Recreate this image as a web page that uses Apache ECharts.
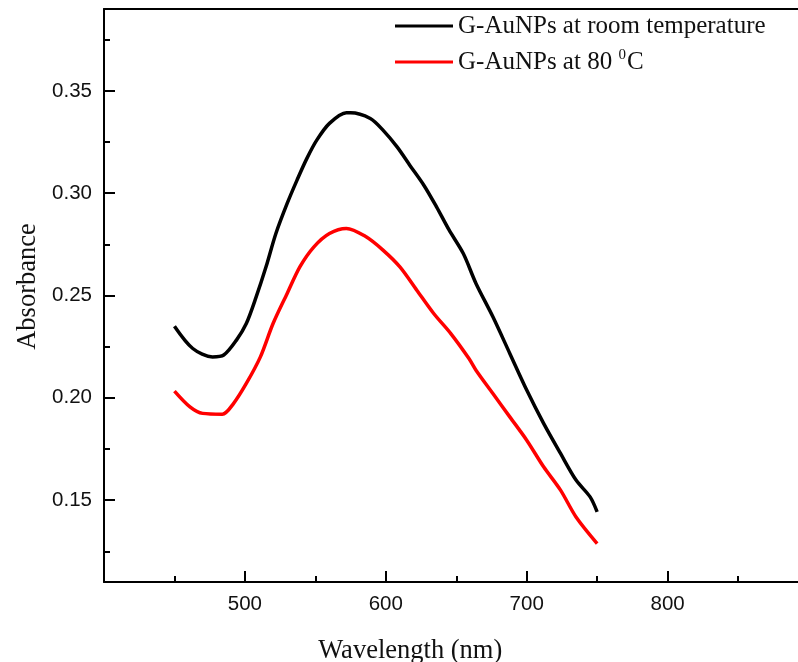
<!DOCTYPE html>
<html lang="en">

<head>
    <meta charset="UTF-8">
    <style>
    html,
    body {
        height: 100%;
        margin: 0;
        background: #fff;
    }
  </style>
</head>

<body>
<div id="chart" style="width:798px;height:662px;"></div>
<script src="https://cdn.jsdelivr.net/npm/echarts@6/dist/echarts.min.js"></script>
<script>
    // wavelength (nm) / absorbance
    var roomWave = [450, 463, 477, 485, 494, 501, 508, 515, 522, 530, 537, 544, 551, 560, 572, 575, 589, 598, 608, 617, 627, 636, 645, 655, 664, 676, 688, 700, 712, 724, 735, 745, 750];
    var roomAbs = [0.2350, 0.2241, 0.2200, 0.2209, 0.2282, 0.2363, 0.2493, 0.2640, 0.2803, 0.2950, 0.3064, 0.3170, 0.3259, 0.3341, 0.3393, 0.3393, 0.3365, 0.3308, 0.3226, 0.3137, 0.3039, 0.2933, 0.2819, 0.2705, 0.2559, 0.2396, 0.2217, 0.2038, 0.1875, 0.1728, 0.1598, 0.1516, 0.1443];

    var hotWave = [450, 461, 470, 484, 492, 501, 511, 520, 530, 539, 549, 560, 572, 586, 598, 610, 622, 634, 646, 659, 664, 676, 688, 700, 712, 724, 735, 750];
    var hotAbs = [0.2033, 0.1956, 0.1924, 0.1920, 0.1973, 0.2070, 0.2200, 0.2363, 0.2510, 0.2640, 0.2738, 0.2803, 0.2828, 0.2787, 0.2722, 0.2640, 0.2526, 0.2412, 0.2315, 0.2192, 0.2135, 0.2021, 0.1907, 0.1793, 0.1663, 0.1549, 0.1418, 0.1288];

    var yMajor = [0.15, 0.20, 0.25, 0.30, 0.35];
    var yMinor = [0.125, 0.175, 0.225, 0.275, 0.325, 0.375];

    var seriesNames = ['G-AuNPs at room temperature', 'G-AuNPs at 80 0C'];

    function pairs(xs, ys) {
        var out = [];
        for (var i = 0; i < xs.length; i++) {
            out.push([xs[i], ys[i]]);
        }
        return out;
    }

    var axisCol = '#000';
    var serif = 'Liberation Serif';
    var sans = 'Liberation Sans';

    // the plot runs past the right edge of the picture (900 nm sits off-canvas)
    var gridBox = {left: 104, top: 9, width: 704.5, height: 573, outerBoundsMode: 'none', containLabel: false};

    var legendBase = {
        orient: 'vertical',
        left: 395,
        icon: 'rect',
        itemWidth: 58,
        itemHeight: 3,
        itemGap: 0,
        padding: 0,
        textStyle: {
            fontFamily: serif,
            fontSize: 25,
            color: '#111',
            lineHeight: 28
        }
    };

    var myChart = echarts.init(document.getElementById('chart'));
    myChart.setOption({
        animation: false,
        backgroundColor: '#fff',
        grid: [
            Object.assign({}, gridBox),
            Object.assign({}, gridBox)
        ],
        legend: [
            Object.assign({}, legendBase, {
                top: 12,
                data: [seriesNames[0]]
            }),
            Object.assign({}, legendBase, {
                top: 48,
                data: [seriesNames[1]],
                formatter: function () {
                    return '{n|G-AuNPs at 80 }{s|0}{n|C}';
                },
                textStyle: Object.assign({}, legendBase.textStyle, {
                    rich: {
                        n: {fontFamily: serif, fontSize: 25, color: '#111', lineHeight: 28},
                        s: {fontFamily: serif, fontSize: 15, color: '#111', verticalAlign: 'top', lineHeight: 16, padding: [0, 1, 10, 0]}
                    }
                })
            })
        ],
        xAxis: [
            {
                type: 'value',
                gridIndex: 0,
                min: 400,
                max: 900,
                interval: 100,
                name: 'Wavelength (nm)',
                nameLocation: 'middle',
                nameGap: 56,
                nameTextStyle: {
                    fontFamily: serif,
                    fontSize: 26.5,
                    color: '#111',
                    padding: [0, 92, 0, 0]
                },
                axisLine: {lineStyle: {color: axisCol, width: 2}},
                axisTick: {inside: true, length: 11, lineStyle: {color: axisCol, width: 2}},
                minorTick: {show: true, splitNumber: 2, length: 6, lineStyle: {color: axisCol, width: 2}},
                splitLine: {show: false},
                axisLabel: {
                    showMinLabel: false,
                    showMaxLabel: false,
                    margin: 12,
                    fontFamily: sans,
                    fontSize: 20.5,
                    color: '#111'
                }
            },
            {
                type: 'value',
                gridIndex: 0,
                position: 'top',
                min: 400,
                max: 900,
                axisLine: {lineStyle: {color: axisCol, width: 2}},
                axisTick: {show: false},
                axisLabel: {show: false},
                splitLine: {show: false}
            },
            {
                type: 'value',
                gridIndex: 1,
                min: 400,
                max: 900,
                show: false
            }
        ],
        yAxis: [
            {
                type: 'value',
                gridIndex: 0,
                min: 0.11,
                max: 0.39,
                name: 'Absorbance',
                nameLocation: 'middle',
                nameGap: 62,
                nameTextStyle: {
                    fontFamily: serif,
                    fontSize: 26.5,
                    color: '#111',
                    padding: [0, 0, 0, 18]
                },
                axisLine: {lineStyle: {color: axisCol, width: 2}},
                axisTick: {inside: true, length: 11, customValues: yMajor, lineStyle: {color: axisCol, width: 2}},
                splitLine: {show: false},
                axisLabel: {
                    customValues: yMajor,
                    margin: 12,
                    fontFamily: sans,
                    fontSize: 20.5,
                    color: '#111',
                    formatter: function (v) { return v.toFixed(2); }
                }
            },
            {
                // minor ticks only, drawn on an overlaid grid
                type: 'value',
                gridIndex: 1,
                position: 'left',
                min: 0.11,
                max: 0.39,
                axisLine: {show: false},
                axisTick: {show: true, inside: true, length: 6, customValues: yMinor, lineStyle: {color: axisCol, width: 2}},
                axisLabel: {show: false},
                splitLine: {show: false}
            }
        ],
        series: [
            {
                name: seriesNames[0],
                type: 'line',
                data: pairs(roomWave, roomAbs),
                showSymbol: false,
                smooth: 0.3,
                color: '#000',
                lineStyle: {color: '#000', width: 3.5}
            },
            {
                name: seriesNames[1],
                type: 'line',
                data: pairs(hotWave, hotAbs),
                showSymbol: false,
                smooth: 0.3,
                color: '#ff0000',
                lineStyle: {color: '#ff0000', width: 3.5}
            }
        ]
    });
</script>
</body>
</html>
